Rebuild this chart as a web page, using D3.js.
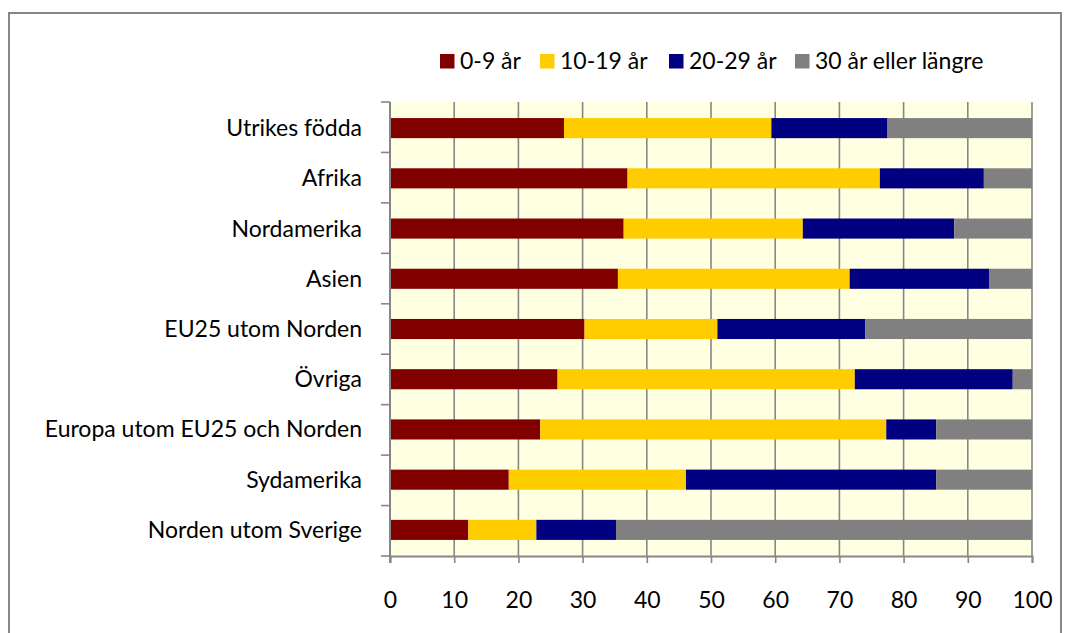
<!DOCTYPE html>
<html>
<head>
<meta charset="utf-8"/>
<script src="https://cdnjs.cloudflare.com/ajax/libs/d3/7.8.5/d3.min.js"></script>
<style>
  body { margin: 0; background: #fff; }
  text { font-family: Lato, "Open Sans", sans-serif; fill: #000; }
</style>
</head>
<body>
<script>
// categories, top to bottom
const categories = ['Utrikes födda', 'Afrika', 'Nordamerika', 'Asien', 'EU25 utom Norden',
  'Övriga', 'Europa utom EU25 och Norden', 'Sydamerika', 'Norden utom Sverige'];
const seriesNames = ['0-9 år', '10-19 år', '20-29 år', '30 år eller längre'];
const colors = ['#800000', '#ffcc00', '#000080', '#808080'];
// share in percent per series
const s0_9 = [27.1, 37.0, 36.4, 35.5, 30.3, 26.1, 23.4, 18.5, 12.2];
const s10_19 = [32.3, 39.3, 27.9, 36.1, 20.7, 46.3, 53.9, 27.6, 10.6];
const s20_29 = [18.1, 16.2, 23.6, 21.7, 23.0, 24.6, 7.8, 39.0, 12.4];
const s30 = [22.5, 7.5, 12.1, 6.7, 26.0, 3.0, 14.9, 14.9, 64.8];
const xTicks = [0, 10, 20, 30, 40, 50, 60, 70, 80, 90, 100];

const W = 1070, H = 633;
const FS = '23px';
const svg = d3.select('body').append('svg').attr('width', W).attr('height', H);

// outer frame
svg.append('rect').attr('x', 9).attr('y', 13).attr('width', 1052).attr('height', 640)
  .attr('fill', 'none').attr('stroke', '#868686').attr('stroke-width', 2);

const pL = 390, pR = 1032, pT = 102, pB = 556;
const x = d3.scaleLinear().domain([0, 100]).range([pL, pR]);
const y = d3.scaleBand().domain(categories).range([pT, pB]).paddingInner(0.6).paddingOuter(0.32);

// plot background
svg.append('rect').attr('x', pL).attr('y', pT).attr('width', pR - pL).attr('height', pB - pT)
  .attr('fill', '#ffffe1');

// vertical gridlines
svg.append('g').selectAll('line').data(xTicks.slice(1)).join('line')
  .attr('x1', d => x(d)).attr('x2', d => x(d)).attr('y1', pT).attr('y2', pB)
  .attr('stroke', '#878787').attr('stroke-width', 1.6);

// stacked bars
const rows = categories.map((c, i) => ({ cat: c, a: s0_9[i], b: s10_19[i], c2: s20_29[i], d: s30[i] }));
const stack = d3.stack().keys(['a', 'b', 'c2', 'd'])(rows);
svg.append('g').selectAll('g').data(stack).join('g')
  .attr('fill', (d, i) => colors[i])
  .selectAll('rect').data(d => d).join('rect')
  .attr('x', d => x(d[0])).attr('width', d => x(Math.min(d[1], 100)) - x(d[0]))
  .attr('y', d => y(d.data.cat)).attr('height', y.bandwidth());

// x axis
const xAxis = svg.append('g').attr('transform', `translate(0,${pB})`)
  .call(d3.axisBottom(x).tickValues(xTicks).tickSize(7).tickPadding(29));
xAxis.select('.domain').attr('stroke', '#878787').attr('stroke-width', 2);
xAxis.selectAll('.tick line').attr('stroke', '#878787').attr('stroke-width', 1.6);
xAxis.selectAll('.tick text').style('font-size', FS).style('font-family', 'Lato, sans-serif');

// y axis
const step = y.step();
const yb = d3.range(categories.length + 1).map(i => pT + i * (pB - pT) / categories.length);
svg.append('line').attr('x1', pL).attr('x2', pL).attr('y1', pT).attr('y2', pB + 7)
  .attr('stroke', '#878787').attr('stroke-width', 2);
svg.append('g').selectAll('line').data(yb).join('line')
  .attr('x1', pL - 9).attr('x2', pL).attr('y1', d => d).attr('y2', d => d)
  .attr('stroke', '#878787').attr('stroke-width', 1.6);
svg.append('g').selectAll('text').data(categories).join('text')
  .attr('x', 362).attr('y', d => y(d) + y.bandwidth() / 2)
  .attr('dy', '0.35em').attr('text-anchor', 'end').style('font-size', FS)
  .text(d => d);

// legend
const legX = [440, 540, 669, 795];
const leg = svg.append('g').selectAll('g').data(seriesNames).join('g')
  .attr('transform', (d, i) => `translate(${legX[i]},54)`);
leg.append('rect').attr('width', 14.5).attr('height', 14.5).attr('fill', (d, i) => colors[i]);
leg.append('text').attr('x', 20).attr('y', 15).style('font-size', FS).text(d => d);
</script>
</body>
</html>
